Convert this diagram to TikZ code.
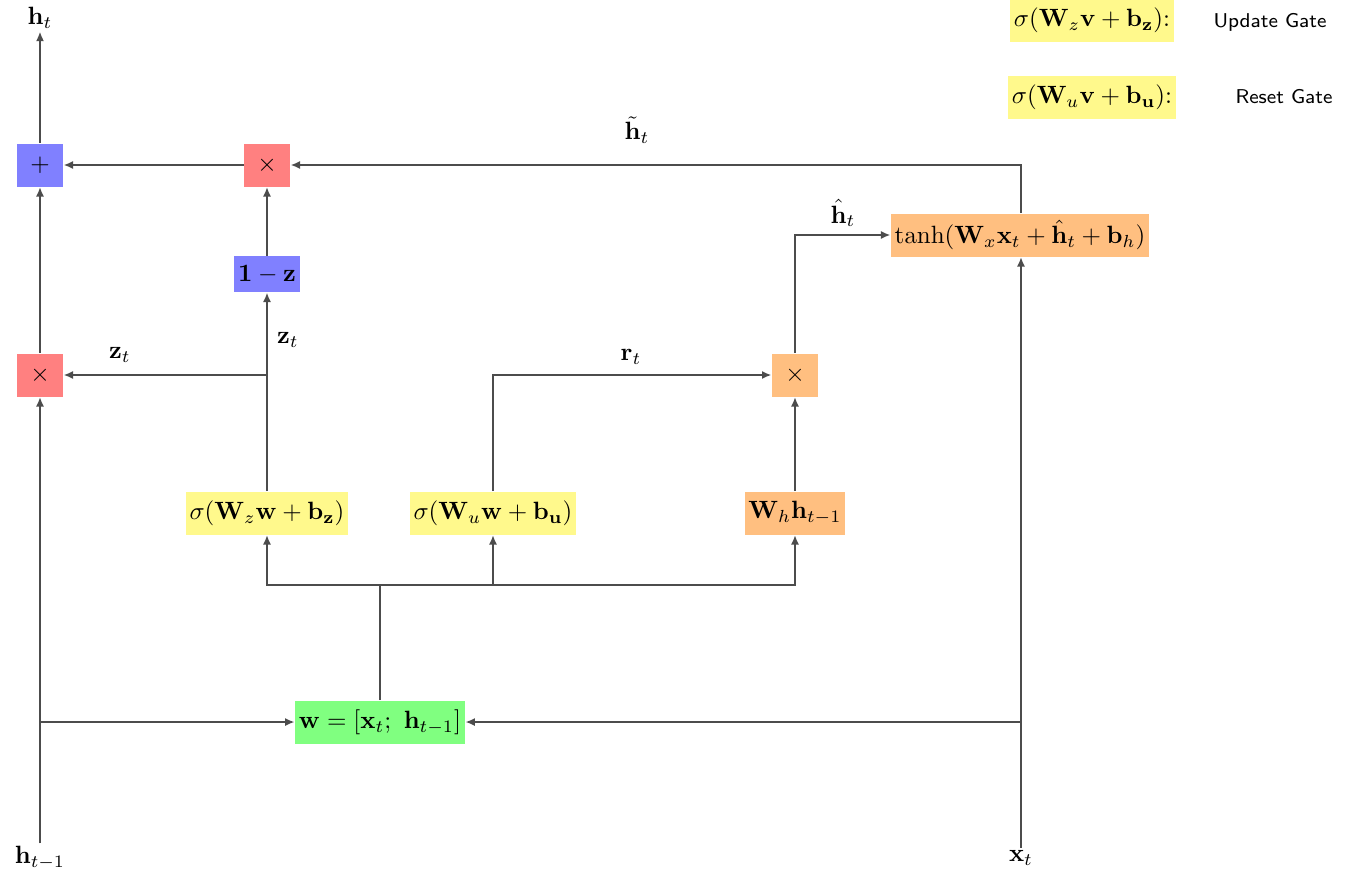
\documentclass[tikz,border=0pt]{standalone}
\usetikzlibrary{arrows.meta}
\begin{document}
\begin{tikzpicture}[x=0.40pt,y=-0.40pt]
\tikzset{
 op/.style={minimum width=18.4pt, minimum height=17.2pt, inner sep=0pt},
 fbox/.style={inner sep=1.5pt, minimum height=17.2pt},
 conn/.style={draw=black!70, line width=0.75pt, -{Latex[length=3.8pt,width=3.2pt]}},
 plain/.style={draw=black!70, line width=0.75pt},
 lbl/.style={inner sep=1pt},
}
\colorlet{ylw}{yellow!45}
\useasboundingbox (0,0) rectangle (1372,876);
% nodes
\node[lbl] (ht) at (40,18) {$\mathbf{h}_t$};
\node[lbl] (hprev) at (40,858) {$\mathbf{h}_{t-1}$};
\node[lbl] (xt) at (1021,858) {$\mathbf{x}_t$};
\node[op, fill=blue!50] (plus) at (40,165) {$+$};
\node[op, fill=red!50] (mtop) at (267,165) {$\times$};
\node[op, fill=red!50] (mleft) at (40,375) {$\times$};
\node[fbox, fill=blue!50, minimum height=14.4pt] (omz) at (267,274) {$\mathbf{1-z}$};
\node[op, fill=orange!50] (mr) at (795,375) {$\times$};
\node[fbox, fill=ylw] (sz) at (267,513) {$\sigma(\mathbf{W}_z\mathbf{w}+\mathbf{b_z})$};
\node[fbox, fill=ylw] (su) at (493,513) {$\sigma(\mathbf{W}_u\mathbf{w}+\mathbf{b_u})$};
\node[fbox, fill=orange!50] (wh) at (795,513) {$\mathbf{W}_h\mathbf{h}_{t-1}$};
\node[fbox, fill=green!50] (w) at (380,722) {$\mathbf{w}=[\mathbf{x}_t;\ \mathbf{h}_{t-1}]$};
\node[fbox, fill=orange!50] (tanh) at (1020,235) {$\tanh(\mathbf{W}_x\mathbf{x}_t+\hat{\mathbf{h}}_t+\mathbf{b}_h)$};
% legend
\node[fbox, fill=ylw] (lz) at (1092,20) {$\sigma(\mathbf{W}_z\mathbf{v}+\mathbf{b_z})$:};
\node[lbl] (lzt) at (1270,22) {\footnotesize\sffamily Update Gate};
\node[fbox, fill=ylw] (lu) at (1092,97) {$\sigma(\mathbf{W}_u\mathbf{v}+\mathbf{b_u})$:};
\node[lbl] (lut) at (1284,97) {\footnotesize\sffamily Reset Gate};
% labels
\node[lbl] (lhtil) at (637,130) {$\tilde{\mathbf{h}}_t$};
\node[lbl] (lhhat) at (843,213) {$\hat{\mathbf{h}}_t$};
\node[lbl] (lz1) at (120,355) {$\mathbf{z}_t$};
\node[lbl] (lz2) at (288,340) {$\mathbf{z}_t$};
\node[lbl] (lr) at (631,357) {$\mathbf{r}_t$};
% junctions
\coordinate (jl) at (40,722);
\coordinate (jr) at (1021,722);
\coordinate (jb) at (380,585);
\coordinate (jz) at (267,375);
% connectors
\draw[conn] (hprev.north) -- (mleft.south);
\draw[conn] (jl) -- (w.west);
\draw[conn] (xt.north) -- (tanh.south -| xt.north);
\draw[conn] (jr) -- (w.east);
\draw[plain, line width=1.1pt] (w.north) -- (jb);
\draw[conn] (jb) -| (sz.south);
\draw[conn] (jb) -| (su.south);
\draw[conn] (jb) -| (wh.south);
\draw[conn] (sz.north) -- (omz.south);
\draw[conn] (jz) -- (mleft.east);
\draw[conn] (omz.north) -- (mtop.south);
\draw[conn] (mtop.west) -- (plus.east);
\draw[conn] (mleft.north) -- (plus.south);
\draw[conn] (plus.north) -- (ht.south);
\draw[conn] (su.north) |- (mr.west);
\draw[conn] (wh.north) -- (mr.south);
\draw[conn] (mr.north) |- (tanh.west);
\draw[conn] (tanh.north -| xt.north) |- (mtop.east);
\end{tikzpicture}
\end{document}
